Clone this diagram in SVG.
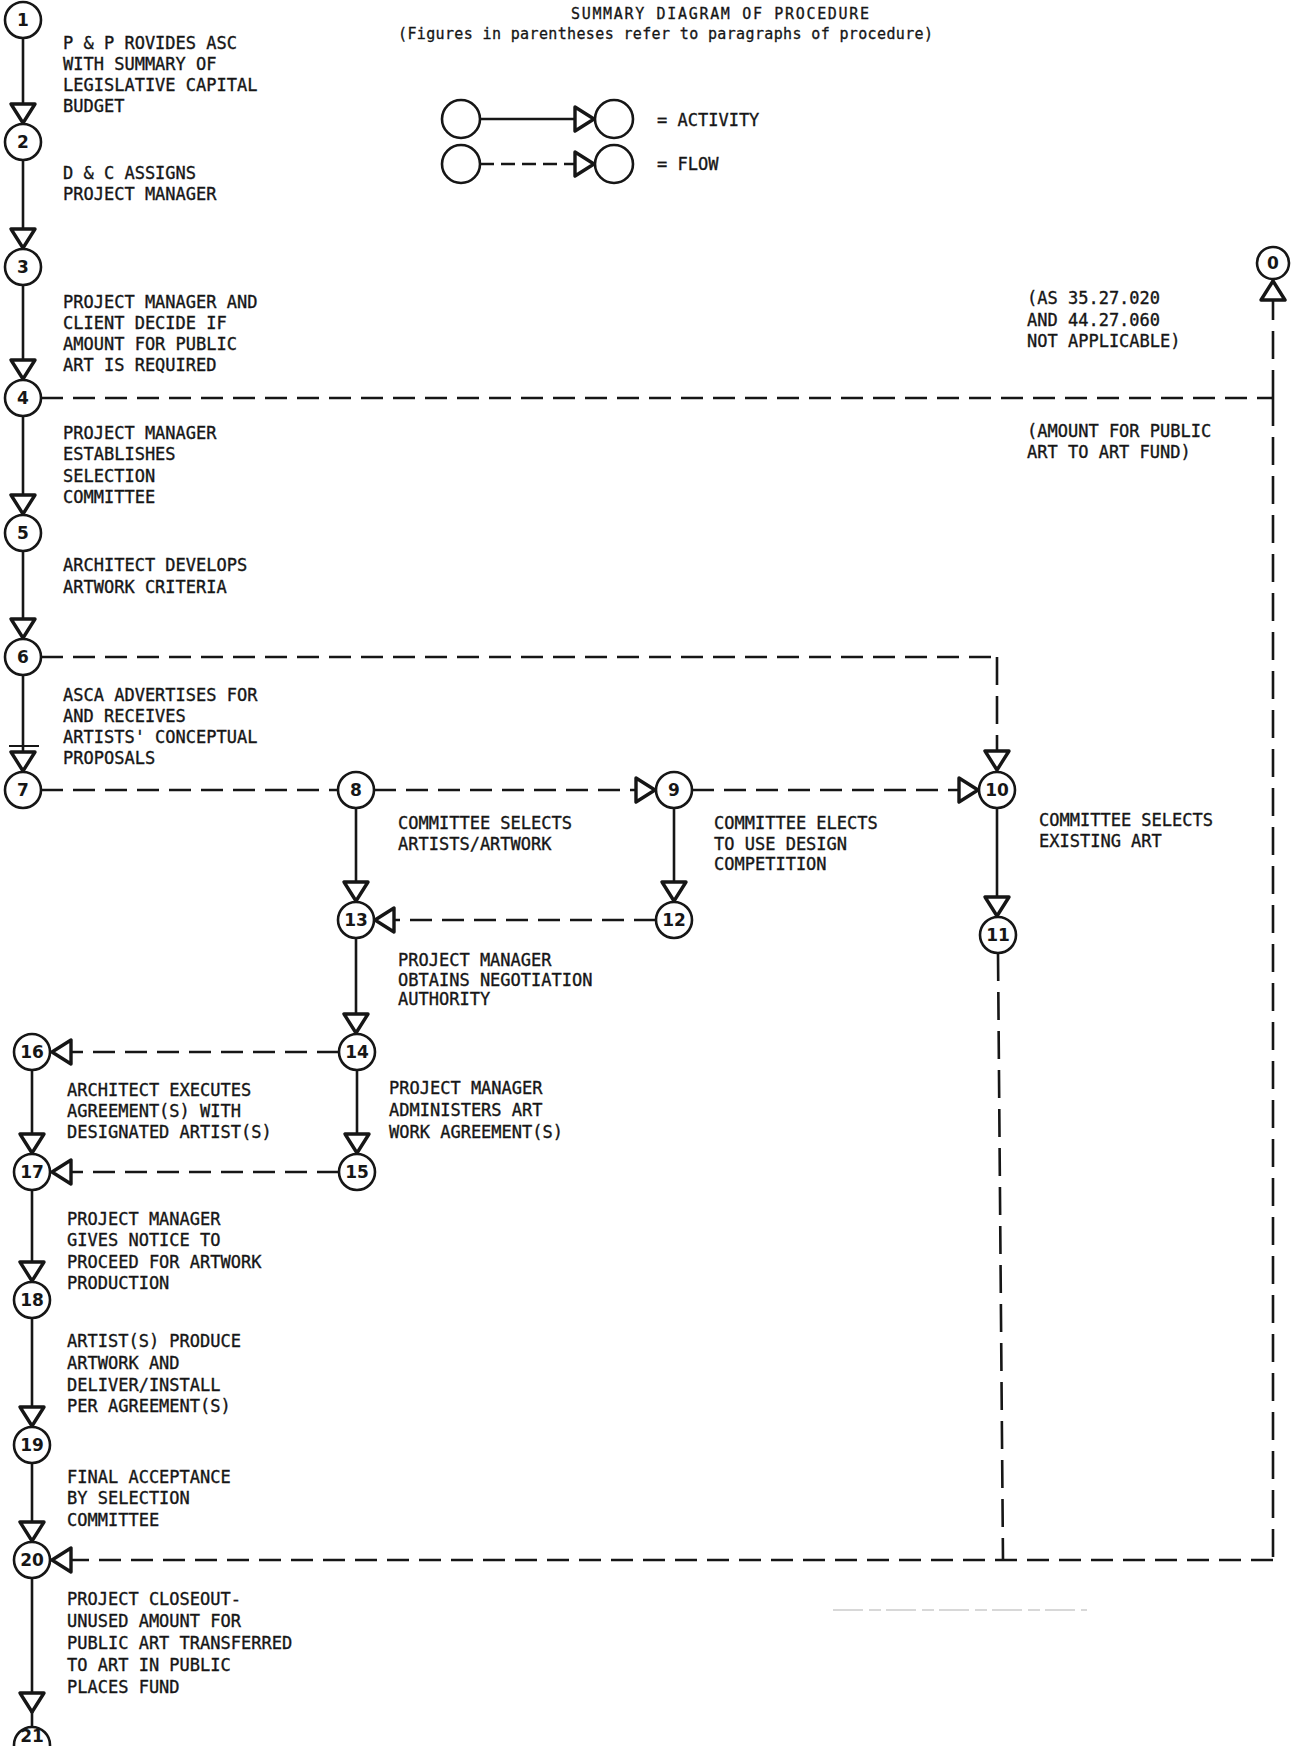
<svg xmlns="http://www.w3.org/2000/svg" width="1291" height="1746" viewBox="0 0 1291 1746">
<defs>
<style>
.t{font-family:"DejaVu Sans Mono","Liberation Mono",monospace;font-size:17px;fill:#161616;stroke:#161616;stroke-width:0.35}
.n circle{fill:#fff;stroke:#161616;stroke-width:2.6}
.n .num{font-family:"DejaVu Sans","Liberation Sans",sans-serif;font-size:17px;font-weight:bold;fill:#161616;text-anchor:middle;dominant-baseline:central}
.s{fill:none;stroke:#161616;stroke-width:2.6}
.d{fill:none;stroke:#161616;stroke-width:2.6;stroke-dasharray:22 10}
.v{fill:none;stroke:#161616;stroke-width:2.6;stroke-dasharray:28 11}
.ttl{font-family:"DejaVu Sans Mono","Liberation Mono",monospace;font-size:15px;fill:#161616;stroke:#161616;stroke-width:0.3}
</style>
<marker id="a" markerUnits="userSpaceOnUse" markerWidth="26" markerHeight="30" viewBox="-23 -15 26 30" refX="0" refY="0" orient="auto">
<path d="M-20,-12 L-1,0 L-20,12 Z" fill="#fff" stroke="#161616" stroke-width="3.4" stroke-linejoin="round"/>
</marker>
</defs>
<rect width="1291" height="1746" fill="#fff"/>

<g id="title">
<text class="ttl" x="571" y="19" textLength="298">SUMMARY DIAGRAM OF PROCEDURE</text>
<text class="ttl" x="398" y="39" textLength="535">(Figures in parentheses refer to paragraphs of procedure)</text>
</g>

<g id="legend" class="n">
<circle cx="461" cy="119" r="19"/>
<circle cx="614" cy="119" r="19"/>
<circle cx="461" cy="164" r="19"/>
<circle cx="614" cy="164" r="19"/>
<path class="s" d="M480,119 H595" marker-end="url(#a)"/>
<path class="d" style="stroke-dasharray:14 7" d="M480,164 H595" marker-end="url(#a)"/>
<text class="t" x="657" y="126">= ACTIVITY</text>
<text class="t" x="657" y="170">= FLOW</text>
</g>

<g id="connectors">
<path class="s" d="M23,38 V124" marker-end="url(#a)"/>
<path class="s" d="M23,160 V249" marker-end="url(#a)"/>
<path class="s" d="M23,285 V380" marker-end="url(#a)"/>
<path class="s" d="M23,416 V515" marker-end="url(#a)"/>
<path class="s" d="M23,551 V639" marker-end="url(#a)"/>
<path class="s" d="M23,675 V772" marker-end="url(#a)"/>
<line class="s" x1="9" y1="746" x2="39" y2="746" style="stroke-width:2"/>
<path class="s" d="M356,808 V902" marker-end="url(#a)"/>
<path class="s" d="M674,808 V902" marker-end="url(#a)"/>
<path class="s" d="M997,808 V917" marker-end="url(#a)"/>
<path class="s" d="M356,938 V1034" marker-end="url(#a)"/>
<path class="s" d="M357,1070 V1154" marker-end="url(#a)"/>
<path class="s" d="M32,1070 V1154" marker-end="url(#a)"/>
<path class="s" d="M32,1190 V1282" marker-end="url(#a)"/>
<path class="s" d="M32,1318 V1427" marker-end="url(#a)"/>
<path class="s" d="M32,1463 V1542" marker-end="url(#a)"/>
<path class="s" d="M32,1578 V1713" marker-end="url(#a)"/>
<line class="s" x1="32" y1="1712" x2="32" y2="1727"/>

<path class="d" d="M41,398 H1273"/>
<path class="v" d="M1273,398 V280" marker-end="url(#a)"/>
<path class="v" d="M1273,398 V1560"/>
<path class="d" d="M1273,1560 H51" marker-end="url(#a)"/>
<path class="v" d="M998,953 L1003,1560"/>
<path class="d" d="M41,657 H997"/>
<path class="v" d="M997,657 V771" marker-end="url(#a)"/>
<path class="d" d="M41,790 H338"/>
<path class="d" d="M374,790 H656" marker-end="url(#a)"/>
<path class="d" d="M692,790 H979" marker-end="url(#a)"/>
<path class="d" d="M656,920 H374" marker-end="url(#a)"/>
<path class="d" d="M339,1052 H51" marker-end="url(#a)"/>
<path class="d" d="M339,1172 H51" marker-end="url(#a)"/>
<path d="M833,1610 H1087" fill="none" stroke="#d8d8d8" stroke-width="2" stroke-dasharray="30 6 12 5"/>
</g>

<g id="n0" class="n"><circle cx="1273" cy="263" r="16"/><text class="num" x="1273" y="263">0</text></g>

<g id="n1" class="n"><circle cx="23" cy="20" r="18"/><text class="num" x="23" y="20">1</text>
<text class="t" x="63" y="49">P &amp; P ROVIDES ASC</text>
<text class="t" x="63" y="70">WITH SUMMARY OF</text>
<text class="t" x="63" y="91">LEGISLATIVE CAPITAL</text>
<text class="t" x="63" y="112">BUDGET</text></g>

<g id="n2" class="n"><circle cx="23" cy="142" r="18"/><text class="num" x="23" y="142">2</text>
<text class="t" x="63" y="179">D &amp; C ASSIGNS</text>
<text class="t" x="63" y="200">PROJECT MANAGER</text></g>

<g id="n3" class="n"><circle cx="23" cy="267" r="18"/><text class="num" x="23" y="267">3</text>
<text class="t" x="63" y="308">PROJECT MANAGER AND</text>
<text class="t" x="63" y="329">CLIENT DECIDE IF</text>
<text class="t" x="63" y="350">AMOUNT FOR PUBLIC</text>
<text class="t" x="63" y="371">ART IS REQUIRED</text>
<text class="t" x="1027" y="304">(AS 35.27.020</text>
<text class="t" x="1027" y="326">AND 44.27.060</text>
<text class="t" x="1027" y="347">NOT APPLICABLE)</text></g>

<g id="n4" class="n"><circle cx="23" cy="398" r="18"/><text class="num" x="23" y="398">4</text>
<text class="t" x="63" y="439">PROJECT MANAGER</text>
<text class="t" x="63" y="460">ESTABLISHES</text>
<text class="t" x="63" y="482">SELECTION</text>
<text class="t" x="63" y="503">COMMITTEE</text>
<text class="t" x="1027" y="437">(AMOUNT FOR PUBLIC</text>
<text class="t" x="1027" y="458">ART TO ART FUND)</text></g>

<g id="n5" class="n"><circle cx="23" cy="533" r="18"/><text class="num" x="23" y="533">5</text>
<text class="t" x="63" y="571">ARCHITECT DEVELOPS</text>
<text class="t" x="63" y="593">ARTWORK CRITERIA</text></g>

<g id="n6" class="n"><circle cx="23" cy="657" r="18"/><text class="num" x="23" y="657">6</text>
<text class="t" x="63" y="701">ASCA ADVERTISES FOR</text>
<text class="t" x="63" y="722">AND RECEIVES</text>
<text class="t" x="63" y="743">ARTISTS' CONCEPTUAL</text>
<text class="t" x="63" y="764">PROPOSALS</text></g>

<g id="n7" class="n"><circle cx="23" cy="790" r="18"/><text class="num" x="23" y="790">7</text></g>

<g id="n8" class="n"><circle cx="356" cy="790" r="18"/><text class="num" x="356" y="790">8</text>
<text class="t" x="398" y="829">COMMITTEE SELECTS</text>
<text class="t" x="398" y="850">ARTISTS/ARTWORK</text></g>

<g id="n9" class="n"><circle cx="674" cy="790" r="18"/><text class="num" x="674" y="790">9</text>
<text class="t" x="714" y="829">COMMITTEE ELECTS</text>
<text class="t" x="714" y="850">TO USE DESIGN</text>
<text class="t" x="714" y="870">COMPETITION</text></g>

<g id="n10" class="n"><circle cx="997" cy="790" r="18"/><text class="num" x="997" y="790">10</text>
<text class="t" x="1039" y="826">COMMITTEE SELECTS</text>
<text class="t" x="1039" y="847">EXISTING ART</text></g>

<g id="n11" class="n"><circle cx="998" cy="935" r="18"/><text class="num" x="998" y="935">11</text></g>

<g id="n12" class="n"><circle cx="674" cy="920" r="18"/><text class="num" x="674" y="920">12</text></g>

<g id="n13" class="n"><circle cx="356" cy="920" r="18"/><text class="num" x="356" y="920">13</text>
<text class="t" x="398" y="966">PROJECT MANAGER</text>
<text class="t" x="398" y="986">OBTAINS NEGOTIATION</text>
<text class="t" x="398" y="1005">AUTHORITY</text></g>

<g id="n14" class="n"><circle cx="357" cy="1052" r="18"/><text class="num" x="357" y="1052">14</text>
<text class="t" x="389" y="1094">PROJECT MANAGER</text>
<text class="t" x="389" y="1116">ADMINISTERS ART</text>
<text class="t" x="389" y="1138">WORK AGREEMENT(S)</text></g>

<g id="n15" class="n"><circle cx="357" cy="1172" r="18"/><text class="num" x="357" y="1172">15</text></g>

<g id="n16" class="n"><circle cx="32" cy="1052" r="18"/><text class="num" x="32" y="1052">16</text>
<text class="t" x="67" y="1096">ARCHITECT EXECUTES</text>
<text class="t" x="67" y="1117">AGREEMENT(S) WITH</text>
<text class="t" x="67" y="1138">DESIGNATED ARTIST(S)</text></g>

<g id="n17" class="n"><circle cx="32" cy="1172" r="18"/><text class="num" x="32" y="1172">17</text>
<text class="t" x="67" y="1225">PROJECT MANAGER</text>
<text class="t" x="67" y="1246">GIVES NOTICE TO</text>
<text class="t" x="67" y="1268">PROCEED FOR ARTWORK</text>
<text class="t" x="67" y="1289">PRODUCTION</text></g>

<g id="n18" class="n"><circle cx="32" cy="1300" r="18"/><text class="num" x="32" y="1300">18</text>
<text class="t" x="67" y="1347">ARTIST(S) PRODUCE</text>
<text class="t" x="67" y="1369">ARTWORK AND</text>
<text class="t" x="67" y="1391">DELIVER/INSTALL</text>
<text class="t" x="67" y="1412">PER AGREEMENT(S)</text></g>

<g id="n19" class="n"><circle cx="32" cy="1445" r="18"/><text class="num" x="32" y="1445">19</text>
<text class="t" x="67" y="1483">FINAL ACCEPTANCE</text>
<text class="t" x="67" y="1504">BY SELECTION</text>
<text class="t" x="67" y="1526">COMMITTEE</text></g>

<g id="n20" class="n"><circle cx="32" cy="1560" r="18"/><text class="num" x="32" y="1560">20</text>
<text class="t" x="67" y="1605">PROJECT CLOSEOUT-</text>
<text class="t" x="67" y="1627">UNUSED AMOUNT FOR</text>
<text class="t" x="67" y="1649">PUBLIC ART TRANSFERRED</text>
<text class="t" x="67" y="1671">TO ART IN PUBLIC</text>
<text class="t" x="67" y="1693">PLACES FUND</text></g>

<g id="n21" class="n"><circle cx="32" cy="1745" r="18"/><text class="num" x="32" y="1736">21</text></g>
</svg>
